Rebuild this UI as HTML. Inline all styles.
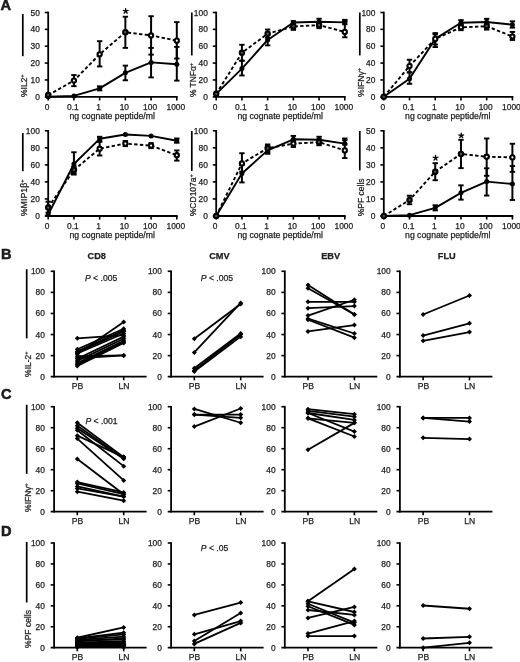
<!DOCTYPE html>
<html><head><meta charset="utf-8"><style>
html,body{margin:0;padding:0;background:#fff;width:520px;height:662px;overflow:hidden}
svg{display:block;font-family:"Liberation Sans", sans-serif;filter:grayscale(1) blur(0.3px)}
text{fill:#222;stroke:#222;stroke-width:0.25px}
</style></head><body>
<svg width="520" height="662" viewBox="0 0 520 662">
<rect width="520" height="662" fill="#fff"/>
<g stroke="#000">
<line x1="22.80" y1="14.00" x2="22.80" y2="56.20" stroke-width="1.7"/>
<text font-size="8.5" transform="translate(27.20,97.00) rotate(-90)">%IL2<tspan font-size="5.5" dy="-3.3">+</tspan></text>
<line x1="48.20" y1="11.70" x2="48.20" y2="97.60" stroke-width="1.8"/>
<text x="39.80" y="99.80" font-size="8.4" text-anchor="end">0</text>
<line x1="44.80" y1="79.94" x2="48.20" y2="79.94" stroke-width="1.6"/>
<text x="39.80" y="82.94" font-size="8.4" text-anchor="end">10</text>
<line x1="44.80" y1="63.08" x2="48.20" y2="63.08" stroke-width="1.6"/>
<text x="39.80" y="66.08" font-size="8.4" text-anchor="end">20</text>
<line x1="44.80" y1="46.22" x2="48.20" y2="46.22" stroke-width="1.6"/>
<text x="39.80" y="49.22" font-size="8.4" text-anchor="end">30</text>
<line x1="44.80" y1="29.36" x2="48.20" y2="29.36" stroke-width="1.6"/>
<text x="39.80" y="32.36" font-size="8.4" text-anchor="end">40</text>
<line x1="44.80" y1="12.50" x2="48.20" y2="12.50" stroke-width="1.6"/>
<text x="39.80" y="15.50" font-size="8.4" text-anchor="end">50</text>
<line x1="44.80" y1="96.80" x2="177.70" y2="96.80" stroke-width="1.8"/>
<line x1="48.20" y1="96.80" x2="48.20" y2="100.40" stroke-width="1.6"/>
<text x="47.20" y="110.20" font-size="8.4" text-anchor="middle">0</text>
<line x1="73.92" y1="96.80" x2="73.92" y2="100.40" stroke-width="1.6"/>
<text x="72.92" y="110.20" font-size="8.4" text-anchor="middle">0.1</text>
<line x1="99.64" y1="96.80" x2="99.64" y2="100.40" stroke-width="1.6"/>
<text x="98.64" y="110.20" font-size="8.4" text-anchor="middle">1</text>
<line x1="125.36" y1="96.80" x2="125.36" y2="100.40" stroke-width="1.6"/>
<text x="124.36" y="110.20" font-size="8.4" text-anchor="middle">10</text>
<line x1="151.08" y1="96.80" x2="151.08" y2="100.40" stroke-width="1.6"/>
<text x="150.08" y="110.20" font-size="8.4" text-anchor="middle">100</text>
<line x1="176.80" y1="96.80" x2="176.80" y2="100.40" stroke-width="1.6"/>
<text x="175.80" y="110.20" font-size="8.4" text-anchor="middle">1000</text>
<text x="112.20" y="118.80" font-size="8.7" text-anchor="middle">ng cognate peptide/ml</text>
<polyline points="48.20,95.11 73.92,80.61 99.64,54.31 125.36,32.23 151.08,35.43 176.80,40.66" fill="none" stroke-width="1.9" stroke-linejoin="round" stroke-dasharray="3.4,2.3"/>
<polyline points="48.20,96.80 73.92,95.96 99.64,88.37 125.36,72.86 151.08,62.41 176.80,64.26" fill="none" stroke-width="1.9" stroke-linejoin="round"/>
<line x1="73.92" y1="86.18" x2="73.92" y2="75.05" stroke-width="2.0"/>
<line x1="71.22" y1="86.18" x2="76.62" y2="86.18" stroke-width="1.9"/>
<line x1="71.22" y1="75.05" x2="76.62" y2="75.05" stroke-width="1.9"/>
<line x1="99.64" y1="66.45" x2="99.64" y2="41.16" stroke-width="2.0"/>
<line x1="96.94" y1="66.45" x2="102.34" y2="66.45" stroke-width="1.9"/>
<line x1="96.94" y1="41.16" x2="102.34" y2="41.16" stroke-width="1.9"/>
<line x1="125.36" y1="47.91" x2="125.36" y2="16.72" stroke-width="2.0"/>
<line x1="122.66" y1="47.91" x2="128.06" y2="47.91" stroke-width="1.9"/>
<line x1="122.66" y1="16.72" x2="128.06" y2="16.72" stroke-width="1.9"/>
<line x1="151.08" y1="54.65" x2="151.08" y2="16.21" stroke-width="2.0"/>
<line x1="148.38" y1="54.65" x2="153.78" y2="54.65" stroke-width="1.9"/>
<line x1="148.38" y1="16.21" x2="153.78" y2="16.21" stroke-width="1.9"/>
<line x1="176.80" y1="58.53" x2="176.80" y2="22.11" stroke-width="2.0"/>
<line x1="174.10" y1="58.53" x2="179.50" y2="58.53" stroke-width="1.9"/>
<line x1="174.10" y1="22.11" x2="179.50" y2="22.11" stroke-width="1.9"/>
<line x1="99.64" y1="90.39" x2="99.64" y2="86.35" stroke-width="2.0"/>
<line x1="96.94" y1="90.39" x2="102.34" y2="90.39" stroke-width="1.9"/>
<line x1="96.94" y1="86.35" x2="102.34" y2="86.35" stroke-width="1.9"/>
<line x1="125.36" y1="80.28" x2="125.36" y2="65.61" stroke-width="2.0"/>
<line x1="122.66" y1="80.28" x2="128.06" y2="80.28" stroke-width="1.9"/>
<line x1="122.66" y1="65.61" x2="128.06" y2="65.61" stroke-width="1.9"/>
<line x1="151.08" y1="77.41" x2="151.08" y2="47.91" stroke-width="2.0"/>
<line x1="148.38" y1="77.41" x2="153.78" y2="77.41" stroke-width="1.9"/>
<line x1="148.38" y1="47.91" x2="153.78" y2="47.91" stroke-width="1.9"/>
<line x1="176.80" y1="80.61" x2="176.80" y2="46.89" stroke-width="2.0"/>
<line x1="174.10" y1="80.61" x2="179.50" y2="80.61" stroke-width="1.9"/>
<line x1="174.10" y1="46.89" x2="179.50" y2="46.89" stroke-width="1.9"/>
<circle cx="48.20" cy="96.80" r="2.5" fill="#000" stroke="none"/>
<circle cx="73.92" cy="95.96" r="2.5" fill="#000" stroke="none"/>
<circle cx="99.64" cy="88.37" r="2.5" fill="#000" stroke="none"/>
<circle cx="125.36" cy="72.86" r="2.5" fill="#000" stroke="none"/>
<circle cx="151.08" cy="62.41" r="2.5" fill="#000" stroke="none"/>
<circle cx="176.80" cy="64.26" r="2.5" fill="#000" stroke="none"/>
<circle cx="48.20" cy="95.11" r="2.2" fill="#555" stroke-width="2.1"/>
<circle cx="73.92" cy="80.61" r="2.1" fill="#fff" stroke-width="2.1"/>
<circle cx="99.64" cy="54.31" r="2.1" fill="#fff" stroke-width="2.1"/>
<circle cx="125.36" cy="32.23" r="2.2" fill="#555" stroke-width="2.1"/>
<circle cx="151.08" cy="35.43" r="2.1" fill="#fff" stroke-width="2.1"/>
<circle cx="176.80" cy="40.66" r="2.1" fill="#fff" stroke-width="2.1"/>
<path d="M125.66,11.20L125.66,8.70M125.66,11.20L128.04,10.43M125.66,11.20L127.13,13.22M125.66,11.20L124.19,13.22M125.66,11.20L123.28,10.43" stroke-width="1.3" stroke-linecap="round" fill="none"/>
<line x1="191.80" y1="12.50" x2="191.80" y2="55.40" stroke-width="1.7"/>
<text font-size="8.4" transform="translate(196.20,97.00) rotate(-90)">% TNF&#945;<tspan font-size="5.5" dy="-3.3">+</tspan></text>
<line x1="216.20" y1="11.70" x2="216.20" y2="97.60" stroke-width="1.8"/>
<text x="207.80" y="99.80" font-size="8.4" text-anchor="end">0</text>
<line x1="212.80" y1="79.94" x2="216.20" y2="79.94" stroke-width="1.6"/>
<text x="207.80" y="82.94" font-size="8.4" text-anchor="end">20</text>
<line x1="212.80" y1="63.08" x2="216.20" y2="63.08" stroke-width="1.6"/>
<text x="207.80" y="66.08" font-size="8.4" text-anchor="end">40</text>
<line x1="212.80" y1="46.22" x2="216.20" y2="46.22" stroke-width="1.6"/>
<text x="207.80" y="49.22" font-size="8.4" text-anchor="end">60</text>
<line x1="212.80" y1="29.36" x2="216.20" y2="29.36" stroke-width="1.6"/>
<text x="207.80" y="32.36" font-size="8.4" text-anchor="end">80</text>
<line x1="212.80" y1="12.50" x2="216.20" y2="12.50" stroke-width="1.6"/>
<text x="207.80" y="15.50" font-size="8.4" text-anchor="end">100</text>
<line x1="212.80" y1="96.80" x2="345.70" y2="96.80" stroke-width="1.8"/>
<line x1="216.20" y1="96.80" x2="216.20" y2="100.40" stroke-width="1.6"/>
<text x="215.20" y="110.20" font-size="8.4" text-anchor="middle">0</text>
<line x1="241.92" y1="96.80" x2="241.92" y2="100.40" stroke-width="1.6"/>
<text x="240.92" y="110.20" font-size="8.4" text-anchor="middle">0.1</text>
<line x1="267.64" y1="96.80" x2="267.64" y2="100.40" stroke-width="1.6"/>
<text x="266.64" y="110.20" font-size="8.4" text-anchor="middle">1</text>
<line x1="293.36" y1="96.80" x2="293.36" y2="100.40" stroke-width="1.6"/>
<text x="292.36" y="110.20" font-size="8.4" text-anchor="middle">10</text>
<line x1="319.08" y1="96.80" x2="319.08" y2="100.40" stroke-width="1.6"/>
<text x="318.08" y="110.20" font-size="8.4" text-anchor="middle">100</text>
<line x1="344.80" y1="96.80" x2="344.80" y2="100.40" stroke-width="1.6"/>
<text x="343.80" y="110.20" font-size="8.4" text-anchor="middle">1000</text>
<text x="280.20" y="118.80" font-size="8.7" text-anchor="middle">ng cognate peptide/ml</text>
<polyline points="216.20,93.85 241.92,52.80 267.64,33.74 293.36,26.41 319.08,25.14 344.80,31.89" fill="none" stroke-width="1.9" stroke-linejoin="round" stroke-dasharray="3.4,2.3"/>
<polyline points="216.20,93.85 241.92,68.56 267.64,39.98 293.36,22.53 319.08,21.77 344.80,22.36" fill="none" stroke-width="1.9" stroke-linejoin="round"/>
<line x1="241.92" y1="60.72" x2="241.92" y2="44.79" stroke-width="2.0"/>
<line x1="239.22" y1="60.72" x2="244.62" y2="60.72" stroke-width="1.9"/>
<line x1="239.22" y1="44.79" x2="244.62" y2="44.79" stroke-width="1.9"/>
<line x1="267.64" y1="37.79" x2="267.64" y2="29.53" stroke-width="2.0"/>
<line x1="264.94" y1="37.79" x2="270.34" y2="37.79" stroke-width="1.9"/>
<line x1="264.94" y1="29.53" x2="270.34" y2="29.53" stroke-width="1.9"/>
<line x1="293.36" y1="29.87" x2="293.36" y2="24.30" stroke-width="2.0"/>
<line x1="290.66" y1="29.87" x2="296.06" y2="29.87" stroke-width="1.9"/>
<line x1="290.66" y1="24.30" x2="296.06" y2="24.30" stroke-width="1.9"/>
<line x1="319.08" y1="28.18" x2="319.08" y2="23.46" stroke-width="2.0"/>
<line x1="316.38" y1="28.18" x2="321.78" y2="28.18" stroke-width="1.9"/>
<line x1="316.38" y1="23.46" x2="321.78" y2="23.46" stroke-width="1.9"/>
<line x1="344.80" y1="37.28" x2="344.80" y2="21.18" stroke-width="2.0"/>
<line x1="342.10" y1="37.28" x2="347.50" y2="37.28" stroke-width="1.9"/>
<line x1="342.10" y1="21.18" x2="347.50" y2="21.18" stroke-width="1.9"/>
<line x1="241.92" y1="75.47" x2="241.92" y2="60.72" stroke-width="2.0"/>
<line x1="239.22" y1="75.47" x2="244.62" y2="75.47" stroke-width="1.9"/>
<line x1="239.22" y1="60.72" x2="244.62" y2="60.72" stroke-width="1.9"/>
<line x1="267.64" y1="45.38" x2="267.64" y2="34.42" stroke-width="2.0"/>
<line x1="264.94" y1="45.38" x2="270.34" y2="45.38" stroke-width="1.9"/>
<line x1="264.94" y1="34.42" x2="270.34" y2="34.42" stroke-width="1.9"/>
<line x1="293.36" y1="24.30" x2="293.36" y2="21.10" stroke-width="2.0"/>
<line x1="290.66" y1="24.30" x2="296.06" y2="24.30" stroke-width="1.9"/>
<line x1="290.66" y1="21.10" x2="296.06" y2="21.10" stroke-width="1.9"/>
<line x1="319.08" y1="23.46" x2="319.08" y2="18.74" stroke-width="2.0"/>
<line x1="316.38" y1="23.46" x2="321.78" y2="23.46" stroke-width="1.9"/>
<line x1="316.38" y1="18.74" x2="321.78" y2="18.74" stroke-width="1.9"/>
<line x1="344.80" y1="24.30" x2="344.80" y2="19.83" stroke-width="2.0"/>
<line x1="342.10" y1="24.30" x2="347.50" y2="24.30" stroke-width="1.9"/>
<line x1="342.10" y1="19.83" x2="347.50" y2="19.83" stroke-width="1.9"/>
<circle cx="216.20" cy="93.85" r="2.5" fill="#000" stroke="none"/>
<circle cx="241.92" cy="68.56" r="2.5" fill="#000" stroke="none"/>
<circle cx="267.64" cy="39.98" r="2.5" fill="#000" stroke="none"/>
<circle cx="293.36" cy="22.53" r="2.5" fill="#000" stroke="none"/>
<circle cx="319.08" cy="21.77" r="2.5" fill="#000" stroke="none"/>
<circle cx="344.80" cy="22.36" r="2.5" fill="#000" stroke="none"/>
<circle cx="216.20" cy="93.85" r="2.2" fill="#555" stroke-width="2.1"/>
<circle cx="241.92" cy="52.80" r="2.2" fill="#555" stroke-width="2.1"/>
<circle cx="267.64" cy="33.74" r="2.2" fill="#555" stroke-width="2.1"/>
<circle cx="293.36" cy="26.41" r="2.2" fill="#555" stroke-width="2.1"/>
<circle cx="319.08" cy="25.14" r="2.2" fill="#555" stroke-width="2.1"/>
<circle cx="344.80" cy="31.89" r="2.1" fill="#fff" stroke-width="2.1"/>
<line x1="359.80" y1="12.50" x2="359.80" y2="55.40" stroke-width="1.7"/>
<text font-size="8.6" transform="translate(364.20,97.00) rotate(-90)">%IFN&#947;<tspan font-size="5.5" dy="-3.3">+</tspan></text>
<line x1="383.80" y1="11.70" x2="383.80" y2="97.60" stroke-width="1.8"/>
<text x="375.40" y="99.80" font-size="8.4" text-anchor="end">0</text>
<line x1="380.40" y1="79.94" x2="383.80" y2="79.94" stroke-width="1.6"/>
<text x="375.40" y="82.94" font-size="8.4" text-anchor="end">20</text>
<line x1="380.40" y1="63.08" x2="383.80" y2="63.08" stroke-width="1.6"/>
<text x="375.40" y="66.08" font-size="8.4" text-anchor="end">40</text>
<line x1="380.40" y1="46.22" x2="383.80" y2="46.22" stroke-width="1.6"/>
<text x="375.40" y="49.22" font-size="8.4" text-anchor="end">60</text>
<line x1="380.40" y1="29.36" x2="383.80" y2="29.36" stroke-width="1.6"/>
<text x="375.40" y="32.36" font-size="8.4" text-anchor="end">80</text>
<line x1="380.40" y1="12.50" x2="383.80" y2="12.50" stroke-width="1.6"/>
<text x="375.40" y="15.50" font-size="8.4" text-anchor="end">100</text>
<line x1="380.40" y1="96.80" x2="513.30" y2="96.80" stroke-width="1.8"/>
<line x1="383.80" y1="96.80" x2="383.80" y2="100.40" stroke-width="1.6"/>
<text x="382.80" y="110.20" font-size="8.4" text-anchor="middle">0</text>
<line x1="409.52" y1="96.80" x2="409.52" y2="100.40" stroke-width="1.6"/>
<text x="408.52" y="110.20" font-size="8.4" text-anchor="middle">0.1</text>
<line x1="435.24" y1="96.80" x2="435.24" y2="100.40" stroke-width="1.6"/>
<text x="434.24" y="110.20" font-size="8.4" text-anchor="middle">1</text>
<line x1="460.96" y1="96.80" x2="460.96" y2="100.40" stroke-width="1.6"/>
<text x="459.96" y="110.20" font-size="8.4" text-anchor="middle">10</text>
<line x1="486.68" y1="96.80" x2="486.68" y2="100.40" stroke-width="1.6"/>
<text x="485.68" y="110.20" font-size="8.4" text-anchor="middle">100</text>
<line x1="512.40" y1="96.80" x2="512.40" y2="100.40" stroke-width="1.6"/>
<text x="511.40" y="110.20" font-size="8.4" text-anchor="middle">1000</text>
<text x="447.80" y="118.80" font-size="8.7" text-anchor="middle">ng cognate peptide/ml</text>
<polyline points="383.80,96.80 409.52,66.03 435.24,38.89 460.96,27.34 486.68,26.24 512.40,36.53" fill="none" stroke-width="1.9" stroke-linejoin="round" stroke-dasharray="3.4,2.3"/>
<polyline points="383.80,96.80 409.52,78.68 435.24,38.89 460.96,22.78 486.68,21.94 512.40,24.72" fill="none" stroke-width="1.9" stroke-linejoin="round"/>
<line x1="409.52" y1="72.35" x2="409.52" y2="59.71" stroke-width="2.0"/>
<line x1="406.82" y1="72.35" x2="412.22" y2="72.35" stroke-width="1.9"/>
<line x1="406.82" y1="59.71" x2="412.22" y2="59.71" stroke-width="1.9"/>
<line x1="435.24" y1="44.53" x2="435.24" y2="34.42" stroke-width="2.0"/>
<line x1="432.54" y1="44.53" x2="437.94" y2="44.53" stroke-width="1.9"/>
<line x1="432.54" y1="34.42" x2="437.94" y2="34.42" stroke-width="1.9"/>
<line x1="460.96" y1="30.20" x2="460.96" y2="24.30" stroke-width="2.0"/>
<line x1="458.26" y1="30.20" x2="463.66" y2="30.20" stroke-width="1.9"/>
<line x1="458.26" y1="24.30" x2="463.66" y2="24.30" stroke-width="1.9"/>
<line x1="486.68" y1="29.61" x2="486.68" y2="23.46" stroke-width="2.0"/>
<line x1="483.98" y1="29.61" x2="489.38" y2="29.61" stroke-width="1.9"/>
<line x1="483.98" y1="23.46" x2="489.38" y2="23.46" stroke-width="1.9"/>
<line x1="512.40" y1="39.98" x2="512.40" y2="31.89" stroke-width="2.0"/>
<line x1="509.70" y1="39.98" x2="515.10" y2="39.98" stroke-width="1.9"/>
<line x1="509.70" y1="31.89" x2="515.10" y2="31.89" stroke-width="1.9"/>
<line x1="409.52" y1="83.82" x2="409.52" y2="72.35" stroke-width="2.0"/>
<line x1="406.82" y1="83.82" x2="412.22" y2="83.82" stroke-width="1.9"/>
<line x1="406.82" y1="72.35" x2="412.22" y2="72.35" stroke-width="1.9"/>
<line x1="435.24" y1="47.06" x2="435.24" y2="33.07" stroke-width="2.0"/>
<line x1="432.54" y1="47.06" x2="437.94" y2="47.06" stroke-width="1.9"/>
<line x1="432.54" y1="33.07" x2="437.94" y2="33.07" stroke-width="1.9"/>
<line x1="460.96" y1="25.14" x2="460.96" y2="20.09" stroke-width="2.0"/>
<line x1="458.26" y1="25.14" x2="463.66" y2="25.14" stroke-width="1.9"/>
<line x1="458.26" y1="20.09" x2="463.66" y2="20.09" stroke-width="1.9"/>
<line x1="486.68" y1="24.30" x2="486.68" y2="18.82" stroke-width="2.0"/>
<line x1="483.98" y1="24.30" x2="489.38" y2="24.30" stroke-width="1.9"/>
<line x1="483.98" y1="18.82" x2="489.38" y2="18.82" stroke-width="1.9"/>
<line x1="512.40" y1="27.67" x2="512.40" y2="21.35" stroke-width="2.0"/>
<line x1="509.70" y1="27.67" x2="515.10" y2="27.67" stroke-width="1.9"/>
<line x1="509.70" y1="21.35" x2="515.10" y2="21.35" stroke-width="1.9"/>
<circle cx="383.80" cy="96.80" r="2.5" fill="#000" stroke="none"/>
<circle cx="409.52" cy="78.68" r="2.5" fill="#000" stroke="none"/>
<circle cx="435.24" cy="38.89" r="2.5" fill="#000" stroke="none"/>
<circle cx="460.96" cy="22.78" r="2.5" fill="#000" stroke="none"/>
<circle cx="486.68" cy="21.94" r="2.5" fill="#000" stroke="none"/>
<circle cx="512.40" cy="24.72" r="2.5" fill="#000" stroke="none"/>
<circle cx="383.80" cy="96.80" r="2.2" fill="#555" stroke-width="2.1"/>
<circle cx="409.52" cy="66.03" r="2.1" fill="#fff" stroke-width="2.1"/>
<circle cx="435.24" cy="38.89" r="2.1" fill="#fff" stroke-width="2.1"/>
<circle cx="460.96" cy="27.34" r="2.1" fill="#fff" stroke-width="2.1"/>
<circle cx="486.68" cy="26.24" r="2.2" fill="#555" stroke-width="2.1"/>
<circle cx="512.40" cy="36.53" r="2.1" fill="#fff" stroke-width="2.1"/>
<line x1="22.80" y1="133.00" x2="22.80" y2="171.20" stroke-width="1.7"/>
<text font-size="8.8" transform="translate(27.20,216.20) rotate(-90)">%MIP1&#946;<tspan font-size="5.5" dy="-3.3">+</tspan></text>
<line x1="48.20" y1="130.00" x2="48.20" y2="216.80" stroke-width="1.8"/>
<text x="39.80" y="219.00" font-size="8.4" text-anchor="end">0</text>
<line x1="44.80" y1="198.96" x2="48.20" y2="198.96" stroke-width="1.6"/>
<text x="39.80" y="201.96" font-size="8.4" text-anchor="end">20</text>
<line x1="44.80" y1="181.92" x2="48.20" y2="181.92" stroke-width="1.6"/>
<text x="39.80" y="184.92" font-size="8.4" text-anchor="end">40</text>
<line x1="44.80" y1="164.88" x2="48.20" y2="164.88" stroke-width="1.6"/>
<text x="39.80" y="167.88" font-size="8.4" text-anchor="end">60</text>
<line x1="44.80" y1="147.84" x2="48.20" y2="147.84" stroke-width="1.6"/>
<text x="39.80" y="150.84" font-size="8.4" text-anchor="end">80</text>
<line x1="44.80" y1="130.80" x2="48.20" y2="130.80" stroke-width="1.6"/>
<text x="39.80" y="133.80" font-size="8.4" text-anchor="end">100</text>
<line x1="44.80" y1="216.00" x2="177.70" y2="216.00" stroke-width="1.8"/>
<line x1="48.20" y1="216.00" x2="48.20" y2="219.60" stroke-width="1.6"/>
<text x="47.20" y="229.40" font-size="8.4" text-anchor="middle">0</text>
<line x1="73.92" y1="216.00" x2="73.92" y2="219.60" stroke-width="1.6"/>
<text x="72.92" y="229.40" font-size="8.4" text-anchor="middle">0.1</text>
<line x1="99.64" y1="216.00" x2="99.64" y2="219.60" stroke-width="1.6"/>
<text x="98.64" y="229.40" font-size="8.4" text-anchor="middle">1</text>
<line x1="125.36" y1="216.00" x2="125.36" y2="219.60" stroke-width="1.6"/>
<text x="124.36" y="229.40" font-size="8.4" text-anchor="middle">10</text>
<line x1="151.08" y1="216.00" x2="151.08" y2="219.60" stroke-width="1.6"/>
<text x="150.08" y="229.40" font-size="8.4" text-anchor="middle">100</text>
<line x1="176.80" y1="216.00" x2="176.80" y2="219.60" stroke-width="1.6"/>
<text x="175.80" y="229.40" font-size="8.4" text-anchor="middle">1000</text>
<text x="112.20" y="238.00" font-size="8.7" text-anchor="middle">ng cognate peptide/ml</text>
<polyline points="48.20,207.57 73.92,169.99 99.64,148.69 125.36,143.58 151.08,145.62 176.80,155.25" fill="none" stroke-width="1.9" stroke-linejoin="round" stroke-dasharray="3.4,2.3"/>
<polyline points="48.20,214.47 73.92,164.03 99.64,138.81 125.36,134.55 151.08,135.91 176.80,140.77" fill="none" stroke-width="1.9" stroke-linejoin="round"/>
<line x1="48.20" y1="212.59" x2="48.20" y2="201.69" stroke-width="2.0"/>
<line x1="45.50" y1="212.59" x2="50.90" y2="212.59" stroke-width="1.9"/>
<line x1="45.50" y1="201.69" x2="50.90" y2="201.69" stroke-width="1.9"/>
<line x1="73.92" y1="173.40" x2="73.92" y2="166.58" stroke-width="2.0"/>
<line x1="71.22" y1="173.40" x2="76.62" y2="173.40" stroke-width="1.9"/>
<line x1="71.22" y1="166.58" x2="76.62" y2="166.58" stroke-width="1.9"/>
<line x1="99.64" y1="155.51" x2="99.64" y2="141.88" stroke-width="2.0"/>
<line x1="96.94" y1="155.51" x2="102.34" y2="155.51" stroke-width="1.9"/>
<line x1="96.94" y1="141.88" x2="102.34" y2="141.88" stroke-width="1.9"/>
<line x1="125.36" y1="146.14" x2="125.36" y2="141.02" stroke-width="2.0"/>
<line x1="122.66" y1="146.14" x2="128.06" y2="146.14" stroke-width="1.9"/>
<line x1="122.66" y1="141.02" x2="128.06" y2="141.02" stroke-width="1.9"/>
<line x1="151.08" y1="148.18" x2="151.08" y2="143.07" stroke-width="2.0"/>
<line x1="148.38" y1="148.18" x2="153.78" y2="148.18" stroke-width="1.9"/>
<line x1="148.38" y1="143.07" x2="153.78" y2="143.07" stroke-width="1.9"/>
<line x1="176.80" y1="160.62" x2="176.80" y2="150.40" stroke-width="2.0"/>
<line x1="174.10" y1="160.62" x2="179.50" y2="160.62" stroke-width="1.9"/>
<line x1="174.10" y1="150.40" x2="179.50" y2="150.40" stroke-width="1.9"/>
<line x1="73.92" y1="174.59" x2="73.92" y2="152.27" stroke-width="2.0"/>
<line x1="71.22" y1="174.59" x2="76.62" y2="174.59" stroke-width="1.9"/>
<line x1="71.22" y1="152.27" x2="76.62" y2="152.27" stroke-width="1.9"/>
<line x1="99.64" y1="141.02" x2="99.64" y2="136.76" stroke-width="2.0"/>
<line x1="96.94" y1="141.02" x2="102.34" y2="141.02" stroke-width="1.9"/>
<line x1="96.94" y1="136.76" x2="102.34" y2="136.76" stroke-width="1.9"/>
<line x1="176.80" y1="142.73" x2="176.80" y2="138.47" stroke-width="2.0"/>
<line x1="174.10" y1="142.73" x2="179.50" y2="142.73" stroke-width="1.9"/>
<line x1="174.10" y1="138.47" x2="179.50" y2="138.47" stroke-width="1.9"/>
<circle cx="48.20" cy="214.47" r="2.5" fill="#000" stroke="none"/>
<circle cx="73.92" cy="164.03" r="2.5" fill="#000" stroke="none"/>
<circle cx="99.64" cy="138.81" r="2.5" fill="#000" stroke="none"/>
<circle cx="125.36" cy="134.55" r="2.5" fill="#000" stroke="none"/>
<circle cx="151.08" cy="135.91" r="2.5" fill="#000" stroke="none"/>
<circle cx="176.80" cy="140.77" r="2.5" fill="#000" stroke="none"/>
<circle cx="48.20" cy="207.57" r="2.2" fill="#555" stroke-width="2.1"/>
<circle cx="73.92" cy="169.99" r="2.2" fill="#555" stroke-width="2.1"/>
<circle cx="99.64" cy="148.69" r="2.1" fill="#fff" stroke-width="2.1"/>
<circle cx="125.36" cy="143.58" r="2.1" fill="#fff" stroke-width="2.1"/>
<circle cx="151.08" cy="145.62" r="2.1" fill="#fff" stroke-width="2.1"/>
<circle cx="176.80" cy="155.25" r="2.1" fill="#fff" stroke-width="2.1"/>
<line x1="191.80" y1="131.00" x2="191.80" y2="170.90" stroke-width="1.7"/>
<text font-size="8.5" transform="translate(196.20,216.20) rotate(-90)">%CD107a<tspan font-size="5.5" dy="-3.3">+</tspan></text>
<line x1="216.20" y1="130.00" x2="216.20" y2="216.80" stroke-width="1.8"/>
<text x="207.80" y="219.00" font-size="8.4" text-anchor="end">0</text>
<line x1="212.80" y1="198.96" x2="216.20" y2="198.96" stroke-width="1.6"/>
<text x="207.80" y="201.96" font-size="8.4" text-anchor="end">20</text>
<line x1="212.80" y1="181.92" x2="216.20" y2="181.92" stroke-width="1.6"/>
<text x="207.80" y="184.92" font-size="8.4" text-anchor="end">40</text>
<line x1="212.80" y1="164.88" x2="216.20" y2="164.88" stroke-width="1.6"/>
<text x="207.80" y="167.88" font-size="8.4" text-anchor="end">60</text>
<line x1="212.80" y1="147.84" x2="216.20" y2="147.84" stroke-width="1.6"/>
<text x="207.80" y="150.84" font-size="8.4" text-anchor="end">80</text>
<line x1="212.80" y1="130.80" x2="216.20" y2="130.80" stroke-width="1.6"/>
<text x="207.80" y="133.80" font-size="8.4" text-anchor="end">100</text>
<line x1="212.80" y1="216.00" x2="345.70" y2="216.00" stroke-width="1.8"/>
<line x1="216.20" y1="216.00" x2="216.20" y2="219.60" stroke-width="1.6"/>
<text x="215.20" y="229.40" font-size="8.4" text-anchor="middle">0</text>
<line x1="241.92" y1="216.00" x2="241.92" y2="219.60" stroke-width="1.6"/>
<text x="240.92" y="229.40" font-size="8.4" text-anchor="middle">0.1</text>
<line x1="267.64" y1="216.00" x2="267.64" y2="219.60" stroke-width="1.6"/>
<text x="266.64" y="229.40" font-size="8.4" text-anchor="middle">1</text>
<line x1="293.36" y1="216.00" x2="293.36" y2="219.60" stroke-width="1.6"/>
<text x="292.36" y="229.40" font-size="8.4" text-anchor="middle">10</text>
<line x1="319.08" y1="216.00" x2="319.08" y2="219.60" stroke-width="1.6"/>
<text x="318.08" y="229.40" font-size="8.4" text-anchor="middle">100</text>
<line x1="344.80" y1="216.00" x2="344.80" y2="219.60" stroke-width="1.6"/>
<text x="343.80" y="229.40" font-size="8.4" text-anchor="middle">1000</text>
<text x="280.20" y="238.00" font-size="8.7" text-anchor="middle">ng cognate peptide/ml</text>
<polyline points="216.20,216.00 241.92,163.43 267.64,148.27 293.36,143.58 319.08,142.22 344.80,150.40" fill="none" stroke-width="1.9" stroke-linejoin="round" stroke-dasharray="3.4,2.3"/>
<polyline points="216.20,216.00 241.92,173.57 267.64,150.40 293.36,139.32 319.08,139.75 344.80,143.58" fill="none" stroke-width="1.9" stroke-linejoin="round"/>
<line x1="241.92" y1="171.70" x2="241.92" y2="153.21" stroke-width="2.0"/>
<line x1="239.22" y1="171.70" x2="244.62" y2="171.70" stroke-width="1.9"/>
<line x1="239.22" y1="153.21" x2="244.62" y2="153.21" stroke-width="1.9"/>
<line x1="267.64" y1="152.10" x2="267.64" y2="144.43" stroke-width="2.0"/>
<line x1="264.94" y1="152.10" x2="270.34" y2="152.10" stroke-width="1.9"/>
<line x1="264.94" y1="144.43" x2="270.34" y2="144.43" stroke-width="1.9"/>
<line x1="293.36" y1="146.99" x2="293.36" y2="140.17" stroke-width="2.0"/>
<line x1="290.66" y1="146.99" x2="296.06" y2="146.99" stroke-width="1.9"/>
<line x1="290.66" y1="140.17" x2="296.06" y2="140.17" stroke-width="1.9"/>
<line x1="319.08" y1="145.28" x2="319.08" y2="139.32" stroke-width="2.0"/>
<line x1="316.38" y1="145.28" x2="321.78" y2="145.28" stroke-width="1.9"/>
<line x1="316.38" y1="139.32" x2="321.78" y2="139.32" stroke-width="1.9"/>
<line x1="344.80" y1="158.06" x2="344.80" y2="138.47" stroke-width="2.0"/>
<line x1="342.10" y1="158.06" x2="347.50" y2="158.06" stroke-width="1.9"/>
<line x1="342.10" y1="138.47" x2="347.50" y2="138.47" stroke-width="1.9"/>
<line x1="241.92" y1="182.43" x2="241.92" y2="164.88" stroke-width="2.0"/>
<line x1="239.22" y1="182.43" x2="244.62" y2="182.43" stroke-width="1.9"/>
<line x1="239.22" y1="164.88" x2="244.62" y2="164.88" stroke-width="1.9"/>
<line x1="267.64" y1="153.80" x2="267.64" y2="146.14" stroke-width="2.0"/>
<line x1="264.94" y1="153.80" x2="270.34" y2="153.80" stroke-width="1.9"/>
<line x1="264.94" y1="146.14" x2="270.34" y2="146.14" stroke-width="1.9"/>
<line x1="293.36" y1="141.02" x2="293.36" y2="135.91" stroke-width="2.0"/>
<line x1="290.66" y1="141.02" x2="296.06" y2="141.02" stroke-width="1.9"/>
<line x1="290.66" y1="135.91" x2="296.06" y2="135.91" stroke-width="1.9"/>
<line x1="319.08" y1="142.73" x2="319.08" y2="136.76" stroke-width="2.0"/>
<line x1="316.38" y1="142.73" x2="321.78" y2="142.73" stroke-width="1.9"/>
<line x1="316.38" y1="136.76" x2="321.78" y2="136.76" stroke-width="1.9"/>
<line x1="344.80" y1="144.43" x2="344.80" y2="140.17" stroke-width="2.0"/>
<line x1="342.10" y1="144.43" x2="347.50" y2="144.43" stroke-width="1.9"/>
<line x1="342.10" y1="140.17" x2="347.50" y2="140.17" stroke-width="1.9"/>
<circle cx="216.20" cy="216.00" r="2.5" fill="#000" stroke="none"/>
<circle cx="241.92" cy="173.57" r="2.5" fill="#000" stroke="none"/>
<circle cx="267.64" cy="150.40" r="2.5" fill="#000" stroke="none"/>
<circle cx="293.36" cy="139.32" r="2.5" fill="#000" stroke="none"/>
<circle cx="319.08" cy="139.75" r="2.5" fill="#000" stroke="none"/>
<circle cx="344.80" cy="143.58" r="2.5" fill="#000" stroke="none"/>
<circle cx="216.20" cy="216.00" r="2.2" fill="#555" stroke-width="2.1"/>
<circle cx="241.92" cy="163.43" r="2.1" fill="#fff" stroke-width="2.1"/>
<circle cx="267.64" cy="148.27" r="2.2" fill="#555" stroke-width="2.1"/>
<circle cx="293.36" cy="143.58" r="2.1" fill="#fff" stroke-width="2.1"/>
<circle cx="319.08" cy="142.22" r="2.2" fill="#555" stroke-width="2.1"/>
<circle cx="344.80" cy="150.40" r="2.1" fill="#fff" stroke-width="2.1"/>
<line x1="359.80" y1="131.00" x2="359.80" y2="170.40" stroke-width="1.7"/>
<text font-size="8.5" transform="translate(364.20,216.20) rotate(-90)">%PF cells</text>
<line x1="383.80" y1="130.00" x2="383.80" y2="216.80" stroke-width="1.8"/>
<text x="375.40" y="219.00" font-size="8.4" text-anchor="end">0</text>
<line x1="380.40" y1="198.96" x2="383.80" y2="198.96" stroke-width="1.6"/>
<text x="375.40" y="201.96" font-size="8.4" text-anchor="end">10</text>
<line x1="380.40" y1="181.92" x2="383.80" y2="181.92" stroke-width="1.6"/>
<text x="375.40" y="184.92" font-size="8.4" text-anchor="end">20</text>
<line x1="380.40" y1="164.88" x2="383.80" y2="164.88" stroke-width="1.6"/>
<text x="375.40" y="167.88" font-size="8.4" text-anchor="end">30</text>
<line x1="380.40" y1="147.84" x2="383.80" y2="147.84" stroke-width="1.6"/>
<text x="375.40" y="150.84" font-size="8.4" text-anchor="end">40</text>
<line x1="380.40" y1="130.80" x2="383.80" y2="130.80" stroke-width="1.6"/>
<text x="375.40" y="133.80" font-size="8.4" text-anchor="end">50</text>
<line x1="380.40" y1="216.00" x2="513.30" y2="216.00" stroke-width="1.8"/>
<line x1="383.80" y1="216.00" x2="383.80" y2="219.60" stroke-width="1.6"/>
<text x="382.80" y="229.40" font-size="8.4" text-anchor="middle">0</text>
<line x1="409.52" y1="216.00" x2="409.52" y2="219.60" stroke-width="1.6"/>
<text x="408.52" y="229.40" font-size="8.4" text-anchor="middle">0.1</text>
<line x1="435.24" y1="216.00" x2="435.24" y2="219.60" stroke-width="1.6"/>
<text x="434.24" y="229.40" font-size="8.4" text-anchor="middle">1</text>
<line x1="460.96" y1="216.00" x2="460.96" y2="219.60" stroke-width="1.6"/>
<text x="459.96" y="229.40" font-size="8.4" text-anchor="middle">10</text>
<line x1="486.68" y1="216.00" x2="486.68" y2="219.60" stroke-width="1.6"/>
<text x="485.68" y="229.40" font-size="8.4" text-anchor="middle">100</text>
<line x1="512.40" y1="216.00" x2="512.40" y2="219.60" stroke-width="1.6"/>
<text x="511.40" y="229.40" font-size="8.4" text-anchor="middle">1000</text>
<text x="447.80" y="238.00" font-size="8.7" text-anchor="middle">ng cognate peptide/ml</text>
<polyline points="383.80,216.00 409.52,199.98 435.24,171.70 460.96,153.97 486.68,156.70 512.40,157.38" fill="none" stroke-width="1.9" stroke-linejoin="round" stroke-dasharray="3.4,2.3"/>
<polyline points="383.80,216.00 409.52,215.15 435.24,207.82 460.96,192.83 486.68,181.58 512.40,183.96" fill="none" stroke-width="1.9" stroke-linejoin="round"/>
<line x1="409.52" y1="204.24" x2="409.52" y2="195.72" stroke-width="2.0"/>
<line x1="406.82" y1="204.24" x2="412.22" y2="204.24" stroke-width="1.9"/>
<line x1="406.82" y1="195.72" x2="412.22" y2="195.72" stroke-width="1.9"/>
<line x1="435.24" y1="180.22" x2="435.24" y2="163.18" stroke-width="2.0"/>
<line x1="432.54" y1="180.22" x2="437.94" y2="180.22" stroke-width="1.9"/>
<line x1="432.54" y1="163.18" x2="437.94" y2="163.18" stroke-width="1.9"/>
<line x1="460.96" y1="168.12" x2="460.96" y2="139.83" stroke-width="2.0"/>
<line x1="458.26" y1="168.12" x2="463.66" y2="168.12" stroke-width="1.9"/>
<line x1="458.26" y1="139.83" x2="463.66" y2="139.83" stroke-width="1.9"/>
<line x1="486.68" y1="175.79" x2="486.68" y2="138.47" stroke-width="2.0"/>
<line x1="483.98" y1="175.79" x2="489.38" y2="175.79" stroke-width="1.9"/>
<line x1="483.98" y1="138.47" x2="489.38" y2="138.47" stroke-width="1.9"/>
<line x1="512.40" y1="171.87" x2="512.40" y2="143.75" stroke-width="2.0"/>
<line x1="509.70" y1="171.87" x2="515.10" y2="171.87" stroke-width="1.9"/>
<line x1="509.70" y1="143.75" x2="515.10" y2="143.75" stroke-width="1.9"/>
<line x1="435.24" y1="210.38" x2="435.24" y2="205.26" stroke-width="2.0"/>
<line x1="432.54" y1="210.38" x2="437.94" y2="210.38" stroke-width="1.9"/>
<line x1="432.54" y1="205.26" x2="437.94" y2="205.26" stroke-width="1.9"/>
<line x1="460.96" y1="199.64" x2="460.96" y2="185.33" stroke-width="2.0"/>
<line x1="458.26" y1="199.64" x2="463.66" y2="199.64" stroke-width="1.9"/>
<line x1="458.26" y1="185.33" x2="463.66" y2="185.33" stroke-width="1.9"/>
<line x1="486.68" y1="195.55" x2="486.68" y2="168.29" stroke-width="2.0"/>
<line x1="483.98" y1="195.55" x2="489.38" y2="195.55" stroke-width="1.9"/>
<line x1="483.98" y1="168.29" x2="489.38" y2="168.29" stroke-width="1.9"/>
<line x1="512.40" y1="199.98" x2="512.40" y2="166.07" stroke-width="2.0"/>
<line x1="509.70" y1="199.98" x2="515.10" y2="199.98" stroke-width="1.9"/>
<line x1="509.70" y1="166.07" x2="515.10" y2="166.07" stroke-width="1.9"/>
<circle cx="383.80" cy="216.00" r="2.5" fill="#000" stroke="none"/>
<circle cx="409.52" cy="215.15" r="2.5" fill="#000" stroke="none"/>
<circle cx="435.24" cy="207.82" r="2.5" fill="#000" stroke="none"/>
<circle cx="460.96" cy="192.83" r="2.5" fill="#000" stroke="none"/>
<circle cx="486.68" cy="181.58" r="2.5" fill="#000" stroke="none"/>
<circle cx="512.40" cy="183.96" r="2.5" fill="#000" stroke="none"/>
<circle cx="383.80" cy="216.00" r="2.2" fill="#555" stroke-width="2.1"/>
<circle cx="409.52" cy="199.98" r="2.2" fill="#555" stroke-width="2.1"/>
<circle cx="435.24" cy="171.70" r="2.2" fill="#555" stroke-width="2.1"/>
<circle cx="460.96" cy="153.97" r="2.2" fill="#555" stroke-width="2.1"/>
<circle cx="486.68" cy="156.70" r="2.1" fill="#fff" stroke-width="2.1"/>
<circle cx="512.40" cy="157.38" r="2.1" fill="#fff" stroke-width="2.1"/>
<path d="M435.54,158.00L435.54,155.50M435.54,158.00L437.92,157.23M435.54,158.00L437.01,160.02M435.54,158.00L434.07,160.02M435.54,158.00L433.16,157.23" stroke-width="1.3" stroke-linecap="round" fill="none"/>
<path d="M461.26,135.60L461.26,133.10M461.26,135.60L463.64,134.83M461.26,135.60L462.73,137.62M461.26,135.60L459.79,137.62M461.26,135.60L458.88,134.83" stroke-width="1.3" stroke-linecap="round" fill="none"/>
<line x1="26.70" y1="269.20" x2="26.70" y2="338.30" stroke-width="1.7"/>
<text font-size="8.5" transform="translate(31.00,376.90) rotate(-90)">%IL-2<tspan font-size="5.5" dy="-3.3">+</tspan></text>
<line x1="54.10" y1="270.50" x2="54.10" y2="377.50" stroke-width="1.8"/>
<text x="44.90" y="379.70" font-size="8.4" text-anchor="end">0</text>
<line x1="50.70" y1="355.62" x2="54.10" y2="355.62" stroke-width="1.6"/>
<text x="44.90" y="358.62" font-size="8.4" text-anchor="end">20</text>
<line x1="50.70" y1="334.54" x2="54.10" y2="334.54" stroke-width="1.6"/>
<text x="44.90" y="337.54" font-size="8.4" text-anchor="end">40</text>
<line x1="50.70" y1="313.46" x2="54.10" y2="313.46" stroke-width="1.6"/>
<text x="44.90" y="316.46" font-size="8.4" text-anchor="end">60</text>
<line x1="50.70" y1="292.38" x2="54.10" y2="292.38" stroke-width="1.6"/>
<text x="44.90" y="295.38" font-size="8.4" text-anchor="end">80</text>
<line x1="50.70" y1="271.30" x2="54.10" y2="271.30" stroke-width="1.6"/>
<text x="44.90" y="274.30" font-size="8.4" text-anchor="end">100</text>
<line x1="50.70" y1="376.70" x2="146.60" y2="376.70" stroke-width="1.8"/>
<line x1="77.30" y1="376.70" x2="77.30" y2="380.30" stroke-width="1.6"/>
<text x="77.60" y="388.90" font-size="8.6" text-anchor="middle">PB</text>
<line x1="123.70" y1="376.70" x2="123.70" y2="380.30" stroke-width="1.6"/>
<text x="124.00" y="388.90" font-size="8.6" text-anchor="middle">LN</text>
<line x1="77.30" y1="338.33" x2="123.70" y2="335.17" stroke-width="1.8"/>
<line x1="77.30" y1="354.04" x2="123.70" y2="321.89" stroke-width="1.8"/>
<line x1="77.30" y1="349.30" x2="123.70" y2="328.74" stroke-width="1.8"/>
<line x1="77.30" y1="351.40" x2="123.70" y2="330.32" stroke-width="1.8"/>
<line x1="77.30" y1="352.46" x2="123.70" y2="331.38" stroke-width="1.8"/>
<line x1="77.30" y1="353.51" x2="123.70" y2="333.49" stroke-width="1.8"/>
<line x1="77.30" y1="356.15" x2="123.70" y2="355.41" stroke-width="1.8"/>
<line x1="77.30" y1="358.25" x2="123.70" y2="355.41" stroke-width="1.8"/>
<line x1="77.30" y1="358.78" x2="123.70" y2="336.65" stroke-width="1.8"/>
<line x1="77.30" y1="360.89" x2="123.70" y2="338.76" stroke-width="1.8"/>
<line x1="77.30" y1="363.00" x2="123.70" y2="340.86" stroke-width="1.8"/>
<line x1="77.30" y1="364.58" x2="123.70" y2="341.92" stroke-width="1.8"/>
<line x1="77.30" y1="365.95" x2="123.70" y2="342.97" stroke-width="1.8"/>
<path d="M74.80,338.33L77.30,335.83L79.80,338.33L77.30,340.83Z" stroke="none"/>
<path d="M121.20,335.17L123.70,332.67L126.20,335.17L123.70,337.67Z" stroke="none"/>
<path d="M74.80,354.04L77.30,351.54L79.80,354.04L77.30,356.54Z" stroke="none"/>
<path d="M121.20,321.89L123.70,319.39L126.20,321.89L123.70,324.39Z" stroke="none"/>
<path d="M74.80,349.30L77.30,346.80L79.80,349.30L77.30,351.80Z" stroke="none"/>
<path d="M121.20,328.74L123.70,326.24L126.20,328.74L123.70,331.24Z" stroke="none"/>
<path d="M74.80,351.40L77.30,348.90L79.80,351.40L77.30,353.90Z" stroke="none"/>
<path d="M121.20,330.32L123.70,327.82L126.20,330.32L123.70,332.82Z" stroke="none"/>
<path d="M74.80,352.46L77.30,349.96L79.80,352.46L77.30,354.96Z" stroke="none"/>
<path d="M121.20,331.38L123.70,328.88L126.20,331.38L123.70,333.88Z" stroke="none"/>
<path d="M74.80,353.51L77.30,351.01L79.80,353.51L77.30,356.01Z" stroke="none"/>
<path d="M121.20,333.49L123.70,330.99L126.20,333.49L123.70,335.99Z" stroke="none"/>
<path d="M74.80,356.15L77.30,353.65L79.80,356.15L77.30,358.65Z" stroke="none"/>
<path d="M121.20,355.41L123.70,352.91L126.20,355.41L123.70,357.91Z" stroke="none"/>
<path d="M74.80,358.25L77.30,355.75L79.80,358.25L77.30,360.75Z" stroke="none"/>
<path d="M121.20,355.41L123.70,352.91L126.20,355.41L123.70,357.91Z" stroke="none"/>
<path d="M74.80,358.78L77.30,356.28L79.80,358.78L77.30,361.28Z" stroke="none"/>
<path d="M121.20,336.65L123.70,334.15L126.20,336.65L123.70,339.15Z" stroke="none"/>
<path d="M74.80,360.89L77.30,358.39L79.80,360.89L77.30,363.39Z" stroke="none"/>
<path d="M121.20,338.76L123.70,336.26L126.20,338.76L123.70,341.26Z" stroke="none"/>
<path d="M74.80,363.00L77.30,360.50L79.80,363.00L77.30,365.50Z" stroke="none"/>
<path d="M121.20,340.86L123.70,338.36L126.20,340.86L123.70,343.36Z" stroke="none"/>
<path d="M74.80,364.58L77.30,362.08L79.80,364.58L77.30,367.08Z" stroke="none"/>
<path d="M121.20,341.92L123.70,339.42L126.20,341.92L123.70,344.42Z" stroke="none"/>
<path d="M74.80,365.95L77.30,363.45L79.80,365.95L77.30,368.45Z" stroke="none"/>
<path d="M121.20,342.97L123.70,340.47L126.20,342.97L123.70,345.47Z" stroke="none"/>
<text x="85.00" y="281.00" font-size="8.6"><tspan font-style="italic">P</tspan> &lt; .005</text>
<text x="96.80" y="258.90" font-size="9.2" text-anchor="middle" font-weight="bold" fill="#111">CD8</text>
<line x1="171.10" y1="270.50" x2="171.10" y2="377.50" stroke-width="1.8"/>
<text x="161.90" y="379.70" font-size="8.4" text-anchor="end">0</text>
<line x1="167.70" y1="355.62" x2="171.10" y2="355.62" stroke-width="1.6"/>
<text x="161.90" y="358.62" font-size="8.4" text-anchor="end">20</text>
<line x1="167.70" y1="334.54" x2="171.10" y2="334.54" stroke-width="1.6"/>
<text x="161.90" y="337.54" font-size="8.4" text-anchor="end">40</text>
<line x1="167.70" y1="313.46" x2="171.10" y2="313.46" stroke-width="1.6"/>
<text x="161.90" y="316.46" font-size="8.4" text-anchor="end">60</text>
<line x1="167.70" y1="292.38" x2="171.10" y2="292.38" stroke-width="1.6"/>
<text x="161.90" y="295.38" font-size="8.4" text-anchor="end">80</text>
<line x1="167.70" y1="271.30" x2="171.10" y2="271.30" stroke-width="1.6"/>
<text x="161.90" y="274.30" font-size="8.4" text-anchor="end">100</text>
<line x1="167.70" y1="376.70" x2="263.60" y2="376.70" stroke-width="1.8"/>
<line x1="194.30" y1="376.70" x2="194.30" y2="380.30" stroke-width="1.6"/>
<text x="194.60" y="388.90" font-size="8.6" text-anchor="middle">PB</text>
<line x1="240.70" y1="376.70" x2="240.70" y2="380.30" stroke-width="1.6"/>
<text x="241.00" y="388.90" font-size="8.6" text-anchor="middle">LN</text>
<line x1="194.30" y1="338.76" x2="240.70" y2="303.97" stroke-width="1.8"/>
<line x1="194.30" y1="352.46" x2="240.70" y2="302.92" stroke-width="1.8"/>
<line x1="194.30" y1="368.27" x2="240.70" y2="333.49" stroke-width="1.8"/>
<line x1="194.30" y1="370.38" x2="240.70" y2="334.54" stroke-width="1.8"/>
<line x1="194.30" y1="371.43" x2="240.70" y2="336.65" stroke-width="1.8"/>
<path d="M191.80,338.76L194.30,336.26L196.80,338.76L194.30,341.26Z" stroke="none"/>
<path d="M238.20,303.97L240.70,301.47L243.20,303.97L240.70,306.47Z" stroke="none"/>
<path d="M191.80,352.46L194.30,349.96L196.80,352.46L194.30,354.96Z" stroke="none"/>
<path d="M238.20,302.92L240.70,300.42L243.20,302.92L240.70,305.42Z" stroke="none"/>
<path d="M191.80,368.27L194.30,365.77L196.80,368.27L194.30,370.77Z" stroke="none"/>
<path d="M238.20,333.49L240.70,330.99L243.20,333.49L240.70,335.99Z" stroke="none"/>
<path d="M191.80,370.38L194.30,367.88L196.80,370.38L194.30,372.88Z" stroke="none"/>
<path d="M238.20,334.54L240.70,332.04L243.20,334.54L240.70,337.04Z" stroke="none"/>
<path d="M191.80,371.43L194.30,368.93L196.80,371.43L194.30,373.93Z" stroke="none"/>
<path d="M238.20,336.65L240.70,334.15L243.20,336.65L240.70,339.15Z" stroke="none"/>
<text x="200.80" y="281.00" font-size="8.6"><tspan font-style="italic">P</tspan> &lt; .005</text>
<text x="219.40" y="258.90" font-size="9.2" text-anchor="middle" font-weight="bold" fill="#111">CMV</text>
<line x1="284.80" y1="270.50" x2="284.80" y2="377.50" stroke-width="1.8"/>
<text x="275.60" y="379.70" font-size="8.4" text-anchor="end">0</text>
<line x1="281.40" y1="355.62" x2="284.80" y2="355.62" stroke-width="1.6"/>
<text x="275.60" y="358.62" font-size="8.4" text-anchor="end">20</text>
<line x1="281.40" y1="334.54" x2="284.80" y2="334.54" stroke-width="1.6"/>
<text x="275.60" y="337.54" font-size="8.4" text-anchor="end">40</text>
<line x1="281.40" y1="313.46" x2="284.80" y2="313.46" stroke-width="1.6"/>
<text x="275.60" y="316.46" font-size="8.4" text-anchor="end">60</text>
<line x1="281.40" y1="292.38" x2="284.80" y2="292.38" stroke-width="1.6"/>
<text x="275.60" y="295.38" font-size="8.4" text-anchor="end">80</text>
<line x1="281.40" y1="271.30" x2="284.80" y2="271.30" stroke-width="1.6"/>
<text x="275.60" y="274.30" font-size="8.4" text-anchor="end">100</text>
<line x1="281.40" y1="376.70" x2="377.30" y2="376.70" stroke-width="1.8"/>
<line x1="308.00" y1="376.70" x2="308.00" y2="380.30" stroke-width="1.6"/>
<text x="308.30" y="388.90" font-size="8.6" text-anchor="middle">PB</text>
<line x1="354.40" y1="376.70" x2="354.40" y2="380.30" stroke-width="1.6"/>
<text x="354.70" y="388.90" font-size="8.6" text-anchor="middle">LN</text>
<line x1="308.00" y1="285.00" x2="354.40" y2="314.51" stroke-width="1.8"/>
<line x1="308.00" y1="288.16" x2="354.40" y2="314.51" stroke-width="1.8"/>
<line x1="308.00" y1="301.87" x2="354.40" y2="301.87" stroke-width="1.8"/>
<line x1="308.00" y1="308.19" x2="354.40" y2="306.08" stroke-width="1.8"/>
<line x1="308.00" y1="315.57" x2="354.40" y2="299.76" stroke-width="1.8"/>
<line x1="308.00" y1="318.73" x2="354.40" y2="333.49" stroke-width="1.8"/>
<line x1="308.00" y1="319.78" x2="354.40" y2="337.70" stroke-width="1.8"/>
<line x1="308.00" y1="331.38" x2="354.40" y2="325.05" stroke-width="1.8"/>
<path d="M305.50,285.00L308.00,282.50L310.50,285.00L308.00,287.50Z" stroke="none"/>
<path d="M351.90,314.51L354.40,312.01L356.90,314.51L354.40,317.01Z" stroke="none"/>
<path d="M305.50,288.16L308.00,285.66L310.50,288.16L308.00,290.66Z" stroke="none"/>
<path d="M351.90,314.51L354.40,312.01L356.90,314.51L354.40,317.01Z" stroke="none"/>
<path d="M305.50,301.87L308.00,299.37L310.50,301.87L308.00,304.37Z" stroke="none"/>
<path d="M351.90,301.87L354.40,299.37L356.90,301.87L354.40,304.37Z" stroke="none"/>
<path d="M305.50,308.19L308.00,305.69L310.50,308.19L308.00,310.69Z" stroke="none"/>
<path d="M351.90,306.08L354.40,303.58L356.90,306.08L354.40,308.58Z" stroke="none"/>
<path d="M305.50,315.57L308.00,313.07L310.50,315.57L308.00,318.07Z" stroke="none"/>
<path d="M351.90,299.76L354.40,297.26L356.90,299.76L354.40,302.26Z" stroke="none"/>
<path d="M305.50,318.73L308.00,316.23L310.50,318.73L308.00,321.23Z" stroke="none"/>
<path d="M351.90,333.49L354.40,330.99L356.90,333.49L354.40,335.99Z" stroke="none"/>
<path d="M305.50,319.78L308.00,317.28L310.50,319.78L308.00,322.28Z" stroke="none"/>
<path d="M351.90,337.70L354.40,335.20L356.90,337.70L354.40,340.20Z" stroke="none"/>
<path d="M305.50,331.38L308.00,328.88L310.50,331.38L308.00,333.88Z" stroke="none"/>
<path d="M351.90,325.05L354.40,322.55L356.90,325.05L354.40,327.55Z" stroke="none"/>
<text x="330.60" y="258.90" font-size="9.2" text-anchor="middle" font-weight="bold" fill="#111">EBV</text>
<line x1="399.90" y1="270.50" x2="399.90" y2="377.50" stroke-width="1.8"/>
<text x="390.70" y="379.70" font-size="8.4" text-anchor="end">0</text>
<line x1="396.50" y1="355.62" x2="399.90" y2="355.62" stroke-width="1.6"/>
<text x="390.70" y="358.62" font-size="8.4" text-anchor="end">20</text>
<line x1="396.50" y1="334.54" x2="399.90" y2="334.54" stroke-width="1.6"/>
<text x="390.70" y="337.54" font-size="8.4" text-anchor="end">40</text>
<line x1="396.50" y1="313.46" x2="399.90" y2="313.46" stroke-width="1.6"/>
<text x="390.70" y="316.46" font-size="8.4" text-anchor="end">60</text>
<line x1="396.50" y1="292.38" x2="399.90" y2="292.38" stroke-width="1.6"/>
<text x="390.70" y="295.38" font-size="8.4" text-anchor="end">80</text>
<line x1="396.50" y1="271.30" x2="399.90" y2="271.30" stroke-width="1.6"/>
<text x="390.70" y="274.30" font-size="8.4" text-anchor="end">100</text>
<line x1="396.50" y1="376.70" x2="492.40" y2="376.70" stroke-width="1.8"/>
<line x1="423.10" y1="376.70" x2="423.10" y2="380.30" stroke-width="1.6"/>
<text x="423.40" y="388.90" font-size="8.6" text-anchor="middle">PB</text>
<line x1="469.50" y1="376.70" x2="469.50" y2="380.30" stroke-width="1.6"/>
<text x="469.80" y="388.90" font-size="8.6" text-anchor="middle">LN</text>
<line x1="423.10" y1="314.51" x2="469.50" y2="295.54" stroke-width="1.8"/>
<line x1="423.10" y1="335.59" x2="469.50" y2="323.37" stroke-width="1.8"/>
<line x1="423.10" y1="340.86" x2="469.50" y2="332.12" stroke-width="1.8"/>
<path d="M420.60,314.51L423.10,312.01L425.60,314.51L423.10,317.01Z" stroke="none"/>
<path d="M467.00,295.54L469.50,293.04L472.00,295.54L469.50,298.04Z" stroke="none"/>
<path d="M420.60,335.59L423.10,333.09L425.60,335.59L423.10,338.09Z" stroke="none"/>
<path d="M467.00,323.37L469.50,320.87L472.00,323.37L469.50,325.87Z" stroke="none"/>
<path d="M420.60,340.86L423.10,338.36L425.60,340.86L423.10,343.36Z" stroke="none"/>
<path d="M467.00,332.12L469.50,329.62L472.00,332.12L469.50,334.62Z" stroke="none"/>
<text x="446.80" y="258.90" font-size="9.2" text-anchor="middle" font-weight="bold" fill="#111">FLU</text>
<line x1="26.70" y1="404.70" x2="26.70" y2="473.80" stroke-width="1.7"/>
<text font-size="8.5" transform="translate(31.00,511.90) rotate(-90)">%IFN&#947;<tspan font-size="5.5" dy="-3.3">+</tspan></text>
<line x1="54.10" y1="405.90" x2="54.10" y2="512.50" stroke-width="1.8"/>
<text x="44.90" y="514.70" font-size="8.4" text-anchor="end">0</text>
<line x1="50.70" y1="490.70" x2="54.10" y2="490.70" stroke-width="1.6"/>
<text x="44.90" y="493.70" font-size="8.4" text-anchor="end">20</text>
<line x1="50.70" y1="469.70" x2="54.10" y2="469.70" stroke-width="1.6"/>
<text x="44.90" y="472.70" font-size="8.4" text-anchor="end">40</text>
<line x1="50.70" y1="448.70" x2="54.10" y2="448.70" stroke-width="1.6"/>
<text x="44.90" y="451.70" font-size="8.4" text-anchor="end">60</text>
<line x1="50.70" y1="427.70" x2="54.10" y2="427.70" stroke-width="1.6"/>
<text x="44.90" y="430.70" font-size="8.4" text-anchor="end">80</text>
<line x1="50.70" y1="406.70" x2="54.10" y2="406.70" stroke-width="1.6"/>
<text x="44.90" y="409.70" font-size="8.4" text-anchor="end">100</text>
<line x1="50.70" y1="511.70" x2="146.60" y2="511.70" stroke-width="1.8"/>
<line x1="77.30" y1="511.70" x2="77.30" y2="515.30" stroke-width="1.6"/>
<text x="77.60" y="523.90" font-size="8.6" text-anchor="middle">PB</text>
<line x1="123.70" y1="511.70" x2="123.70" y2="515.30" stroke-width="1.6"/>
<text x="124.00" y="523.90" font-size="8.6" text-anchor="middle">LN</text>
<line x1="77.30" y1="422.76" x2="123.70" y2="457.10" stroke-width="1.8"/>
<line x1="77.30" y1="425.70" x2="123.70" y2="458.15" stroke-width="1.8"/>
<line x1="77.30" y1="428.22" x2="123.70" y2="458.67" stroke-width="1.8"/>
<line x1="77.30" y1="430.32" x2="123.70" y2="466.13" stroke-width="1.8"/>
<line x1="77.30" y1="435.68" x2="123.70" y2="457.10" stroke-width="1.8"/>
<line x1="77.30" y1="438.62" x2="123.70" y2="480.41" stroke-width="1.8"/>
<line x1="77.30" y1="459.09" x2="123.70" y2="494.16" stroke-width="1.8"/>
<line x1="77.30" y1="482.09" x2="123.70" y2="492.49" stroke-width="1.8"/>
<line x1="77.30" y1="483.45" x2="123.70" y2="494.16" stroke-width="1.8"/>
<line x1="77.30" y1="486.39" x2="123.70" y2="496.58" stroke-width="1.8"/>
<line x1="77.30" y1="488.39" x2="123.70" y2="496.58" stroke-width="1.8"/>
<line x1="77.30" y1="491.64" x2="123.70" y2="500.68" stroke-width="1.8"/>
<path d="M74.80,422.76L77.30,420.26L79.80,422.76L77.30,425.26Z" stroke="none"/>
<path d="M121.20,457.10L123.70,454.60L126.20,457.10L123.70,459.60Z" stroke="none"/>
<path d="M74.80,425.70L77.30,423.20L79.80,425.70L77.30,428.20Z" stroke="none"/>
<path d="M121.20,458.15L123.70,455.65L126.20,458.15L123.70,460.65Z" stroke="none"/>
<path d="M74.80,428.22L77.30,425.72L79.80,428.22L77.30,430.72Z" stroke="none"/>
<path d="M121.20,458.67L123.70,456.17L126.20,458.67L123.70,461.17Z" stroke="none"/>
<path d="M74.80,430.32L77.30,427.82L79.80,430.32L77.30,432.82Z" stroke="none"/>
<path d="M121.20,466.13L123.70,463.63L126.20,466.13L123.70,468.63Z" stroke="none"/>
<path d="M74.80,435.68L77.30,433.18L79.80,435.68L77.30,438.18Z" stroke="none"/>
<path d="M121.20,457.10L123.70,454.60L126.20,457.10L123.70,459.60Z" stroke="none"/>
<path d="M74.80,438.62L77.30,436.12L79.80,438.62L77.30,441.12Z" stroke="none"/>
<path d="M121.20,480.41L123.70,477.91L126.20,480.41L123.70,482.91Z" stroke="none"/>
<path d="M74.80,459.09L77.30,456.59L79.80,459.09L77.30,461.59Z" stroke="none"/>
<path d="M121.20,494.16L123.70,491.66L126.20,494.16L123.70,496.66Z" stroke="none"/>
<path d="M74.80,482.09L77.30,479.59L79.80,482.09L77.30,484.59Z" stroke="none"/>
<path d="M121.20,492.49L123.70,489.99L126.20,492.49L123.70,494.99Z" stroke="none"/>
<path d="M74.80,483.45L77.30,480.95L79.80,483.45L77.30,485.95Z" stroke="none"/>
<path d="M121.20,494.16L123.70,491.66L126.20,494.16L123.70,496.66Z" stroke="none"/>
<path d="M74.80,486.39L77.30,483.89L79.80,486.39L77.30,488.89Z" stroke="none"/>
<path d="M121.20,496.58L123.70,494.08L126.20,496.58L123.70,499.08Z" stroke="none"/>
<path d="M74.80,488.39L77.30,485.89L79.80,488.39L77.30,490.89Z" stroke="none"/>
<path d="M121.20,496.58L123.70,494.08L126.20,496.58L123.70,499.08Z" stroke="none"/>
<path d="M74.80,491.64L77.30,489.14L79.80,491.64L77.30,494.14Z" stroke="none"/>
<path d="M121.20,500.68L123.70,498.18L126.20,500.68L123.70,503.18Z" stroke="none"/>
<text x="85.40" y="423.60" font-size="8.6"><tspan font-style="italic">P</tspan> &lt; .001</text>
<line x1="171.10" y1="405.90" x2="171.10" y2="512.50" stroke-width="1.8"/>
<text x="161.90" y="514.70" font-size="8.4" text-anchor="end">0</text>
<line x1="167.70" y1="490.70" x2="171.10" y2="490.70" stroke-width="1.6"/>
<text x="161.90" y="493.70" font-size="8.4" text-anchor="end">20</text>
<line x1="167.70" y1="469.70" x2="171.10" y2="469.70" stroke-width="1.6"/>
<text x="161.90" y="472.70" font-size="8.4" text-anchor="end">40</text>
<line x1="167.70" y1="448.70" x2="171.10" y2="448.70" stroke-width="1.6"/>
<text x="161.90" y="451.70" font-size="8.4" text-anchor="end">60</text>
<line x1="167.70" y1="427.70" x2="171.10" y2="427.70" stroke-width="1.6"/>
<text x="161.90" y="430.70" font-size="8.4" text-anchor="end">80</text>
<line x1="167.70" y1="406.70" x2="171.10" y2="406.70" stroke-width="1.6"/>
<text x="161.90" y="409.70" font-size="8.4" text-anchor="end">100</text>
<line x1="167.70" y1="511.70" x2="263.60" y2="511.70" stroke-width="1.8"/>
<line x1="194.30" y1="511.70" x2="194.30" y2="515.30" stroke-width="1.6"/>
<text x="194.60" y="523.90" font-size="8.6" text-anchor="middle">PB</text>
<line x1="240.70" y1="511.70" x2="240.70" y2="515.30" stroke-width="1.6"/>
<text x="241.00" y="523.90" font-size="8.6" text-anchor="middle">LN</text>
<line x1="194.30" y1="408.90" x2="240.70" y2="422.76" stroke-width="1.8"/>
<line x1="194.30" y1="414.57" x2="240.70" y2="417.83" stroke-width="1.8"/>
<line x1="194.30" y1="414.57" x2="240.70" y2="414.57" stroke-width="1.8"/>
<line x1="194.30" y1="426.54" x2="240.70" y2="408.49" stroke-width="1.8"/>
<path d="M191.80,408.90L194.30,406.40L196.80,408.90L194.30,411.40Z" stroke="none"/>
<path d="M238.20,422.76L240.70,420.26L243.20,422.76L240.70,425.26Z" stroke="none"/>
<path d="M191.80,414.57L194.30,412.07L196.80,414.57L194.30,417.07Z" stroke="none"/>
<path d="M238.20,417.83L240.70,415.33L243.20,417.83L240.70,420.33Z" stroke="none"/>
<path d="M191.80,414.57L194.30,412.07L196.80,414.57L194.30,417.07Z" stroke="none"/>
<path d="M238.20,414.57L240.70,412.07L243.20,414.57L240.70,417.07Z" stroke="none"/>
<path d="M191.80,426.54L194.30,424.04L196.80,426.54L194.30,429.04Z" stroke="none"/>
<path d="M238.20,408.49L240.70,405.99L243.20,408.49L240.70,410.99Z" stroke="none"/>
<line x1="284.80" y1="405.90" x2="284.80" y2="512.50" stroke-width="1.8"/>
<text x="275.60" y="514.70" font-size="8.4" text-anchor="end">0</text>
<line x1="281.40" y1="490.70" x2="284.80" y2="490.70" stroke-width="1.6"/>
<text x="275.60" y="493.70" font-size="8.4" text-anchor="end">20</text>
<line x1="281.40" y1="469.70" x2="284.80" y2="469.70" stroke-width="1.6"/>
<text x="275.60" y="472.70" font-size="8.4" text-anchor="end">40</text>
<line x1="281.40" y1="448.70" x2="284.80" y2="448.70" stroke-width="1.6"/>
<text x="275.60" y="451.70" font-size="8.4" text-anchor="end">60</text>
<line x1="281.40" y1="427.70" x2="284.80" y2="427.70" stroke-width="1.6"/>
<text x="275.60" y="430.70" font-size="8.4" text-anchor="end">80</text>
<line x1="281.40" y1="406.70" x2="284.80" y2="406.70" stroke-width="1.6"/>
<text x="275.60" y="409.70" font-size="8.4" text-anchor="end">100</text>
<line x1="281.40" y1="511.70" x2="377.30" y2="511.70" stroke-width="1.8"/>
<line x1="308.00" y1="511.70" x2="308.00" y2="515.30" stroke-width="1.6"/>
<text x="308.30" y="523.90" font-size="8.6" text-anchor="middle">PB</text>
<line x1="354.40" y1="511.70" x2="354.40" y2="515.30" stroke-width="1.6"/>
<text x="354.70" y="523.90" font-size="8.6" text-anchor="middle">LN</text>
<line x1="308.00" y1="409.22" x2="354.40" y2="414.15" stroke-width="1.8"/>
<line x1="308.00" y1="410.90" x2="354.40" y2="416.67" stroke-width="1.8"/>
<line x1="308.00" y1="413.00" x2="354.40" y2="419.93" stroke-width="1.8"/>
<line x1="308.00" y1="413.00" x2="354.40" y2="431.58" stroke-width="1.8"/>
<line x1="308.00" y1="418.35" x2="354.40" y2="436.52" stroke-width="1.8"/>
<line x1="308.00" y1="418.35" x2="354.40" y2="422.87" stroke-width="1.8"/>
<line x1="308.00" y1="449.75" x2="354.40" y2="422.87" stroke-width="1.8"/>
<path d="M305.50,409.22L308.00,406.72L310.50,409.22L308.00,411.72Z" stroke="none"/>
<path d="M351.90,414.15L354.40,411.65L356.90,414.15L354.40,416.65Z" stroke="none"/>
<path d="M305.50,410.90L308.00,408.40L310.50,410.90L308.00,413.40Z" stroke="none"/>
<path d="M351.90,416.67L354.40,414.17L356.90,416.67L354.40,419.17Z" stroke="none"/>
<path d="M305.50,413.00L308.00,410.50L310.50,413.00L308.00,415.50Z" stroke="none"/>
<path d="M351.90,419.93L354.40,417.43L356.90,419.93L354.40,422.43Z" stroke="none"/>
<path d="M305.50,413.00L308.00,410.50L310.50,413.00L308.00,415.50Z" stroke="none"/>
<path d="M351.90,431.58L354.40,429.08L356.90,431.58L354.40,434.08Z" stroke="none"/>
<path d="M305.50,418.35L308.00,415.85L310.50,418.35L308.00,420.85Z" stroke="none"/>
<path d="M351.90,436.52L354.40,434.02L356.90,436.52L354.40,439.02Z" stroke="none"/>
<path d="M305.50,418.35L308.00,415.85L310.50,418.35L308.00,420.85Z" stroke="none"/>
<path d="M351.90,422.87L354.40,420.37L356.90,422.87L354.40,425.37Z" stroke="none"/>
<path d="M305.50,449.75L308.00,447.25L310.50,449.75L308.00,452.25Z" stroke="none"/>
<path d="M351.90,422.87L354.40,420.37L356.90,422.87L354.40,425.37Z" stroke="none"/>
<line x1="399.90" y1="405.90" x2="399.90" y2="512.50" stroke-width="1.8"/>
<text x="390.70" y="514.70" font-size="8.4" text-anchor="end">0</text>
<line x1="396.50" y1="490.70" x2="399.90" y2="490.70" stroke-width="1.6"/>
<text x="390.70" y="493.70" font-size="8.4" text-anchor="end">20</text>
<line x1="396.50" y1="469.70" x2="399.90" y2="469.70" stroke-width="1.6"/>
<text x="390.70" y="472.70" font-size="8.4" text-anchor="end">40</text>
<line x1="396.50" y1="448.70" x2="399.90" y2="448.70" stroke-width="1.6"/>
<text x="390.70" y="451.70" font-size="8.4" text-anchor="end">60</text>
<line x1="396.50" y1="427.70" x2="399.90" y2="427.70" stroke-width="1.6"/>
<text x="390.70" y="430.70" font-size="8.4" text-anchor="end">80</text>
<line x1="396.50" y1="406.70" x2="399.90" y2="406.70" stroke-width="1.6"/>
<text x="390.70" y="409.70" font-size="8.4" text-anchor="end">100</text>
<line x1="396.50" y1="511.70" x2="492.40" y2="511.70" stroke-width="1.8"/>
<line x1="423.10" y1="511.70" x2="423.10" y2="515.30" stroke-width="1.6"/>
<text x="423.40" y="523.90" font-size="8.6" text-anchor="middle">PB</text>
<line x1="469.50" y1="511.70" x2="469.50" y2="515.30" stroke-width="1.6"/>
<text x="469.80" y="523.90" font-size="8.6" text-anchor="middle">LN</text>
<line x1="423.10" y1="417.94" x2="469.50" y2="417.94" stroke-width="1.8"/>
<line x1="423.10" y1="417.94" x2="469.50" y2="421.61" stroke-width="1.8"/>
<line x1="423.10" y1="437.78" x2="469.50" y2="439.04" stroke-width="1.8"/>
<path d="M420.60,417.94L423.10,415.44L425.60,417.94L423.10,420.44Z" stroke="none"/>
<path d="M467.00,417.94L469.50,415.44L472.00,417.94L469.50,420.44Z" stroke="none"/>
<path d="M420.60,417.94L423.10,415.44L425.60,417.94L423.10,420.44Z" stroke="none"/>
<path d="M467.00,421.61L469.50,419.11L472.00,421.61L469.50,424.11Z" stroke="none"/>
<path d="M420.60,437.78L423.10,435.28L425.60,437.78L423.10,440.28Z" stroke="none"/>
<path d="M467.00,439.04L469.50,436.54L472.00,439.04L469.50,441.54Z" stroke="none"/>
<line x1="26.70" y1="542.00" x2="26.70" y2="602.50" stroke-width="1.7"/>
<text font-size="8.5" transform="translate(31.00,647.90) rotate(-90)">%PF cells</text>
<line x1="54.10" y1="542.20" x2="54.10" y2="648.50" stroke-width="1.8"/>
<text x="44.90" y="650.70" font-size="8.4" text-anchor="end">0</text>
<line x1="50.70" y1="626.76" x2="54.10" y2="626.76" stroke-width="1.6"/>
<text x="44.90" y="629.76" font-size="8.4" text-anchor="end">20</text>
<line x1="50.70" y1="605.82" x2="54.10" y2="605.82" stroke-width="1.6"/>
<text x="44.90" y="608.82" font-size="8.4" text-anchor="end">40</text>
<line x1="50.70" y1="584.88" x2="54.10" y2="584.88" stroke-width="1.6"/>
<text x="44.90" y="587.88" font-size="8.4" text-anchor="end">60</text>
<line x1="50.70" y1="563.94" x2="54.10" y2="563.94" stroke-width="1.6"/>
<text x="44.90" y="566.94" font-size="8.4" text-anchor="end">80</text>
<line x1="50.70" y1="543.00" x2="54.10" y2="543.00" stroke-width="1.6"/>
<text x="44.90" y="546.00" font-size="8.4" text-anchor="end">100</text>
<line x1="50.70" y1="647.70" x2="146.60" y2="647.70" stroke-width="1.8"/>
<line x1="77.30" y1="647.70" x2="77.30" y2="651.30" stroke-width="1.6"/>
<text x="77.60" y="659.90" font-size="8.6" text-anchor="middle">PB</text>
<line x1="123.70" y1="647.70" x2="123.70" y2="651.30" stroke-width="1.6"/>
<text x="124.00" y="659.90" font-size="8.6" text-anchor="middle">LN</text>
<line x1="77.30" y1="637.75" x2="123.70" y2="627.49" stroke-width="1.8"/>
<line x1="77.30" y1="638.28" x2="123.70" y2="632.73" stroke-width="1.8"/>
<line x1="77.30" y1="638.80" x2="123.70" y2="634.40" stroke-width="1.8"/>
<line x1="77.30" y1="639.85" x2="123.70" y2="636.71" stroke-width="1.8"/>
<line x1="77.30" y1="640.37" x2="123.70" y2="639.64" stroke-width="1.8"/>
<line x1="77.30" y1="641.42" x2="123.70" y2="638.28" stroke-width="1.8"/>
<line x1="77.30" y1="642.47" x2="123.70" y2="641.42" stroke-width="1.8"/>
<line x1="77.30" y1="642.99" x2="123.70" y2="643.51" stroke-width="1.8"/>
<line x1="77.30" y1="644.04" x2="123.70" y2="641.94" stroke-width="1.8"/>
<line x1="77.30" y1="644.56" x2="123.70" y2="645.08" stroke-width="1.8"/>
<line x1="77.30" y1="645.61" x2="123.70" y2="644.56" stroke-width="1.8"/>
<line x1="77.30" y1="646.13" x2="123.70" y2="646.13" stroke-width="1.8"/>
<line x1="77.30" y1="646.65" x2="123.70" y2="647.18" stroke-width="1.8"/>
<line x1="77.30" y1="647.18" x2="123.70" y2="645.61" stroke-width="1.8"/>
<path d="M74.80,637.75L77.30,635.25L79.80,637.75L77.30,640.25Z" stroke="none"/>
<path d="M121.20,627.49L123.70,624.99L126.20,627.49L123.70,629.99Z" stroke="none"/>
<path d="M74.80,638.28L77.30,635.78L79.80,638.28L77.30,640.78Z" stroke="none"/>
<path d="M121.20,632.73L123.70,630.23L126.20,632.73L123.70,635.23Z" stroke="none"/>
<path d="M74.80,638.80L77.30,636.30L79.80,638.80L77.30,641.30Z" stroke="none"/>
<path d="M121.20,634.40L123.70,631.90L126.20,634.40L123.70,636.90Z" stroke="none"/>
<path d="M74.80,639.85L77.30,637.35L79.80,639.85L77.30,642.35Z" stroke="none"/>
<path d="M121.20,636.71L123.70,634.21L126.20,636.71L123.70,639.21Z" stroke="none"/>
<path d="M74.80,640.37L77.30,637.87L79.80,640.37L77.30,642.87Z" stroke="none"/>
<path d="M121.20,639.64L123.70,637.14L126.20,639.64L123.70,642.14Z" stroke="none"/>
<path d="M74.80,641.42L77.30,638.92L79.80,641.42L77.30,643.92Z" stroke="none"/>
<path d="M121.20,638.28L123.70,635.78L126.20,638.28L123.70,640.78Z" stroke="none"/>
<path d="M74.80,642.47L77.30,639.97L79.80,642.47L77.30,644.97Z" stroke="none"/>
<path d="M121.20,641.42L123.70,638.92L126.20,641.42L123.70,643.92Z" stroke="none"/>
<path d="M74.80,642.99L77.30,640.49L79.80,642.99L77.30,645.49Z" stroke="none"/>
<path d="M121.20,643.51L123.70,641.01L126.20,643.51L123.70,646.01Z" stroke="none"/>
<path d="M74.80,644.04L77.30,641.54L79.80,644.04L77.30,646.54Z" stroke="none"/>
<path d="M121.20,641.94L123.70,639.44L126.20,641.94L123.70,644.44Z" stroke="none"/>
<path d="M74.80,644.56L77.30,642.06L79.80,644.56L77.30,647.06Z" stroke="none"/>
<path d="M121.20,645.08L123.70,642.58L126.20,645.08L123.70,647.58Z" stroke="none"/>
<path d="M74.80,645.61L77.30,643.11L79.80,645.61L77.30,648.11Z" stroke="none"/>
<path d="M121.20,644.56L123.70,642.06L126.20,644.56L123.70,647.06Z" stroke="none"/>
<path d="M74.80,646.13L77.30,643.63L79.80,646.13L77.30,648.63Z" stroke="none"/>
<path d="M121.20,646.13L123.70,643.63L126.20,646.13L123.70,648.63Z" stroke="none"/>
<path d="M74.80,646.65L77.30,644.15L79.80,646.65L77.30,649.15Z" stroke="none"/>
<path d="M121.20,647.18L123.70,644.68L126.20,647.18L123.70,649.68Z" stroke="none"/>
<path d="M74.80,647.18L77.30,644.68L79.80,647.18L77.30,649.68Z" stroke="none"/>
<path d="M121.20,645.61L123.70,643.11L126.20,645.61L123.70,648.11Z" stroke="none"/>
<line x1="171.10" y1="542.20" x2="171.10" y2="648.50" stroke-width="1.8"/>
<text x="161.90" y="650.70" font-size="8.4" text-anchor="end">0</text>
<line x1="167.70" y1="626.76" x2="171.10" y2="626.76" stroke-width="1.6"/>
<text x="161.90" y="629.76" font-size="8.4" text-anchor="end">20</text>
<line x1="167.70" y1="605.82" x2="171.10" y2="605.82" stroke-width="1.6"/>
<text x="161.90" y="608.82" font-size="8.4" text-anchor="end">40</text>
<line x1="167.70" y1="584.88" x2="171.10" y2="584.88" stroke-width="1.6"/>
<text x="161.90" y="587.88" font-size="8.4" text-anchor="end">60</text>
<line x1="167.70" y1="563.94" x2="171.10" y2="563.94" stroke-width="1.6"/>
<text x="161.90" y="566.94" font-size="8.4" text-anchor="end">80</text>
<line x1="167.70" y1="543.00" x2="171.10" y2="543.00" stroke-width="1.6"/>
<text x="161.90" y="546.00" font-size="8.4" text-anchor="end">100</text>
<line x1="167.70" y1="647.70" x2="263.60" y2="647.70" stroke-width="1.8"/>
<line x1="194.30" y1="647.70" x2="194.30" y2="651.30" stroke-width="1.6"/>
<text x="194.60" y="659.90" font-size="8.6" text-anchor="middle">PB</text>
<line x1="240.70" y1="647.70" x2="240.70" y2="651.30" stroke-width="1.6"/>
<text x="241.00" y="659.90" font-size="8.6" text-anchor="middle">LN</text>
<line x1="194.30" y1="614.93" x2="240.70" y2="602.57" stroke-width="1.8"/>
<line x1="194.30" y1="634.30" x2="240.70" y2="621.11" stroke-width="1.8"/>
<line x1="194.30" y1="641.00" x2="240.70" y2="612.94" stroke-width="1.8"/>
<line x1="194.30" y1="643.93" x2="240.70" y2="622.89" stroke-width="1.8"/>
<path d="M191.80,614.93L194.30,612.43L196.80,614.93L194.30,617.43Z" stroke="none"/>
<path d="M238.20,602.57L240.70,600.07L243.20,602.57L240.70,605.07Z" stroke="none"/>
<path d="M191.80,634.30L194.30,631.80L196.80,634.30L194.30,636.80Z" stroke="none"/>
<path d="M238.20,621.11L240.70,618.61L243.20,621.11L240.70,623.61Z" stroke="none"/>
<path d="M191.80,641.00L194.30,638.50L196.80,641.00L194.30,643.50Z" stroke="none"/>
<path d="M238.20,612.94L240.70,610.44L243.20,612.94L240.70,615.44Z" stroke="none"/>
<path d="M191.80,643.93L194.30,641.43L196.80,643.93L194.30,646.43Z" stroke="none"/>
<path d="M238.20,622.89L240.70,620.39L243.20,622.89L240.70,625.39Z" stroke="none"/>
<text x="200.80" y="551.20" font-size="8.6"><tspan font-style="italic">P</tspan> &lt; .05</text>
<line x1="284.80" y1="542.20" x2="284.80" y2="648.50" stroke-width="1.8"/>
<text x="275.60" y="650.70" font-size="8.4" text-anchor="end">0</text>
<line x1="281.40" y1="626.76" x2="284.80" y2="626.76" stroke-width="1.6"/>
<text x="275.60" y="629.76" font-size="8.4" text-anchor="end">20</text>
<line x1="281.40" y1="605.82" x2="284.80" y2="605.82" stroke-width="1.6"/>
<text x="275.60" y="608.82" font-size="8.4" text-anchor="end">40</text>
<line x1="281.40" y1="584.88" x2="284.80" y2="584.88" stroke-width="1.6"/>
<text x="275.60" y="587.88" font-size="8.4" text-anchor="end">60</text>
<line x1="281.40" y1="563.94" x2="284.80" y2="563.94" stroke-width="1.6"/>
<text x="275.60" y="566.94" font-size="8.4" text-anchor="end">80</text>
<line x1="281.40" y1="543.00" x2="284.80" y2="543.00" stroke-width="1.6"/>
<text x="275.60" y="546.00" font-size="8.4" text-anchor="end">100</text>
<line x1="281.40" y1="647.70" x2="377.30" y2="647.70" stroke-width="1.8"/>
<line x1="308.00" y1="647.70" x2="308.00" y2="651.30" stroke-width="1.6"/>
<text x="308.30" y="659.90" font-size="8.6" text-anchor="middle">PB</text>
<line x1="354.40" y1="647.70" x2="354.40" y2="651.30" stroke-width="1.6"/>
<text x="354.70" y="659.90" font-size="8.6" text-anchor="middle">LN</text>
<line x1="308.00" y1="601.32" x2="354.40" y2="569.07" stroke-width="1.8"/>
<line x1="308.00" y1="601.32" x2="354.40" y2="612.00" stroke-width="1.8"/>
<line x1="308.00" y1="603.73" x2="354.40" y2="622.57" stroke-width="1.8"/>
<line x1="308.00" y1="606.24" x2="354.40" y2="624.88" stroke-width="1.8"/>
<line x1="308.00" y1="610.01" x2="354.40" y2="614.93" stroke-width="1.8"/>
<line x1="308.00" y1="617.97" x2="354.40" y2="606.97" stroke-width="1.8"/>
<line x1="308.00" y1="633.57" x2="354.40" y2="621.11" stroke-width="1.8"/>
<line x1="308.00" y1="636.08" x2="354.40" y2="636.08" stroke-width="1.8"/>
<path d="M305.50,601.32L308.00,598.82L310.50,601.32L308.00,603.82Z" stroke="none"/>
<path d="M351.90,569.07L354.40,566.57L356.90,569.07L354.40,571.57Z" stroke="none"/>
<path d="M305.50,601.32L308.00,598.82L310.50,601.32L308.00,603.82Z" stroke="none"/>
<path d="M351.90,612.00L354.40,609.50L356.90,612.00L354.40,614.50Z" stroke="none"/>
<path d="M305.50,603.73L308.00,601.23L310.50,603.73L308.00,606.23Z" stroke="none"/>
<path d="M351.90,622.57L354.40,620.07L356.90,622.57L354.40,625.07Z" stroke="none"/>
<path d="M305.50,606.24L308.00,603.74L310.50,606.24L308.00,608.74Z" stroke="none"/>
<path d="M351.90,624.88L354.40,622.38L356.90,624.88L354.40,627.38Z" stroke="none"/>
<path d="M305.50,610.01L308.00,607.51L310.50,610.01L308.00,612.51Z" stroke="none"/>
<path d="M351.90,614.93L354.40,612.43L356.90,614.93L354.40,617.43Z" stroke="none"/>
<path d="M305.50,617.97L308.00,615.47L310.50,617.97L308.00,620.47Z" stroke="none"/>
<path d="M351.90,606.97L354.40,604.47L356.90,606.97L354.40,609.47Z" stroke="none"/>
<path d="M305.50,633.57L308.00,631.07L310.50,633.57L308.00,636.07Z" stroke="none"/>
<path d="M351.90,621.11L354.40,618.61L356.90,621.11L354.40,623.61Z" stroke="none"/>
<path d="M305.50,636.08L308.00,633.58L310.50,636.08L308.00,638.58Z" stroke="none"/>
<path d="M351.90,636.08L354.40,633.58L356.90,636.08L354.40,638.58Z" stroke="none"/>
<line x1="399.90" y1="542.20" x2="399.90" y2="648.50" stroke-width="1.8"/>
<text x="390.70" y="650.70" font-size="8.4" text-anchor="end">0</text>
<line x1="396.50" y1="626.76" x2="399.90" y2="626.76" stroke-width="1.6"/>
<text x="390.70" y="629.76" font-size="8.4" text-anchor="end">20</text>
<line x1="396.50" y1="605.82" x2="399.90" y2="605.82" stroke-width="1.6"/>
<text x="390.70" y="608.82" font-size="8.4" text-anchor="end">40</text>
<line x1="396.50" y1="584.88" x2="399.90" y2="584.88" stroke-width="1.6"/>
<text x="390.70" y="587.88" font-size="8.4" text-anchor="end">60</text>
<line x1="396.50" y1="563.94" x2="399.90" y2="563.94" stroke-width="1.6"/>
<text x="390.70" y="566.94" font-size="8.4" text-anchor="end">80</text>
<line x1="396.50" y1="543.00" x2="399.90" y2="543.00" stroke-width="1.6"/>
<text x="390.70" y="546.00" font-size="8.4" text-anchor="end">100</text>
<line x1="396.50" y1="647.70" x2="492.40" y2="647.70" stroke-width="1.8"/>
<line x1="423.10" y1="647.70" x2="423.10" y2="651.30" stroke-width="1.6"/>
<text x="423.40" y="659.90" font-size="8.6" text-anchor="middle">PB</text>
<line x1="469.50" y1="647.70" x2="469.50" y2="651.30" stroke-width="1.6"/>
<text x="469.80" y="659.90" font-size="8.6" text-anchor="middle">LN</text>
<line x1="423.10" y1="605.51" x2="469.50" y2="608.75" stroke-width="1.8"/>
<line x1="423.10" y1="638.49" x2="469.50" y2="636.81" stroke-width="1.8"/>
<line x1="423.10" y1="647.70" x2="469.50" y2="642.78" stroke-width="1.8"/>
<path d="M420.60,605.51L423.10,603.01L425.60,605.51L423.10,608.01Z" stroke="none"/>
<path d="M467.00,608.75L469.50,606.25L472.00,608.75L469.50,611.25Z" stroke="none"/>
<path d="M420.60,638.49L423.10,635.99L425.60,638.49L423.10,640.99Z" stroke="none"/>
<path d="M467.00,636.81L469.50,634.31L472.00,636.81L469.50,639.31Z" stroke="none"/>
<path d="M420.60,647.70L423.10,645.20L425.60,647.70L423.10,650.20Z" stroke="none"/>
<path d="M467.00,642.78L469.50,640.28L472.00,642.78L469.50,645.28Z" stroke="none"/>
<text x="0.40" y="10.20" font-size="14.6" font-weight="bold" fill="#000" style="stroke:#000;stroke-width:0.45px">A</text>
<text x="0.90" y="258.50" font-size="14.6" font-weight="bold" fill="#000" style="stroke:#000;stroke-width:0.45px">B</text>
<text x="0.90" y="399.30" font-size="14.6" font-weight="bold" fill="#000" style="stroke:#000;stroke-width:0.45px">C</text>
<text x="0.90" y="535.60" font-size="14.6" font-weight="bold" fill="#000" style="stroke:#000;stroke-width:0.45px">D</text>
</g>
</svg></body></html>
